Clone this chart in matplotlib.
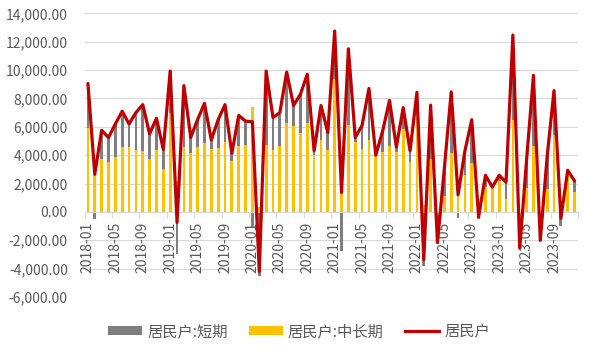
import matplotlib
matplotlib.use('Agg')
import matplotlib.pyplot as plt
import numpy as np
from matplotlib.patches import Patch
from matplotlib.lines import Line2D
from matplotlib.ticker import FuncFormatter

plt.rcParams['font.family'] = ['Noto Sans CJK SC', 'DejaVu Sans']

months = [f'{y}-{m:02d}' for y in range(2018, 2024) for m in range(1, 13)]

total = [9050, 2650, 5750, 5240, 6200, 7100, 6200, 7000, 7560, 5500, 6600, 4400,
         9930, -750, 8900, 5250, 6500, 7650, 5070, 6500, 7560, 4130, 6800, 6400,
         6350, -4200, 9930, 6650, 7000, 9860, 7500, 8290, 9700, 4300, 7500, 5600,
         12750, 1370, 11500, 5240, 6100, 8700, 4000, 5700, 7860, 4580, 7350, 4300,
         8430, -3370, 7530, -2170, 3070, 8460, 1200, 4300, 6500, -350, 2580, 1750,
         2580, 2090, 12470, -2550, 3670, 9630, -2010, 3920, 8550, -450, 2930, 2180]

long_term = [5900, 3150, 3700, 3500, 3900, 4600, 4550, 4350, 4270, 3700, 4350, 3000,
             6950, 2200, 4600, 4150, 4600, 4850, 4400, 4500, 4900, 3570, 4630, 4750,
             7400, 350, 4700, 4350, 4630, 6300, 6030, 5540, 6300, 4000, 5050, 4350,
             9400, 4115, 6150, 4900, 4400, 5100, 3950, 4200, 4630, 4200, 5870, 3550,
             7420, 460, 3750, -220, 1130, 4180, 1600, 2600, 3450, 150, 1750, 1850,
             2200, 880, 6500, -1300, 1680, 4630, -670, 1600, 5450, 550, 2750, 1400]

short_term = [3150, -500, 2050, 1740, 2300, 2500, 1650, 2650, 3290, 1800, 2250, 1400,
              2980, -2950, 4300, 1100, 1900, 2800, 670, 2000, 2660, 560, 2170, 1650,
              -1050, -4550, 5230, 2300, 2370, 3560, 1470, 2750, 3400, 300, 2450, 1250,
              3350, -2745, 5350, 340, 1700, 3600, 50, 1500, 3230, 380, 1480, 750,
              1010, -3830, 3780, -1950, 1940, 4280, -400, 1700, 3050, -500, 830, -100,
              380, 1210, 5970, -1250, 1990, 5000, -1340, 2320, 3100, -1000, 180, 780]

series_names = ['居民户:短期', '居民户:中长期', '居民户']
colors = {'short': '#7F7F7F', 'long': '#FFC000', 'total': '#C00000'}
yticks = list(range(-6000, 14001, 2000))

x = np.arange(len(months))
long_arr = np.array(long_term, dtype=float)
short_arr = np.array(short_term, dtype=float)
short_bottom = np.where(short_arr >= 0, np.maximum(long_arr, 0), np.minimum(long_arr, 0))

fig = plt.figure(figsize=(5.91, 3.51), dpi=100)
ax = fig.add_axes([84.5/591, 1-297/351, (578-84.5)/591, (297-13.3)/351])

for yv in yticks:
    ax.axhline(yv, color='#D9D9D9', lw=0.8, zorder=0)

bw = 0.4
ax.bar(x, long_arr, width=bw, color=colors['long'], zorder=2)
ax.bar(x, short_arr, width=bw, bottom=short_bottom, color=colors['short'], zorder=2)
ax.plot(x, total, color=colors['total'], lw=2.3, zorder=3,
        solid_joinstyle='round', solid_capstyle='round')

ax.set_xlim(-0.5, len(months) - 0.5)
ax.set_ylim(-6000, 14000)
ax.set_yticks(yticks)
ax.yaxis.set_major_formatter(FuncFormatter(lambda v, p: f'{v:,.2f}'))
ax.tick_params(axis='y', length=0, pad=12, labelsize=10, labelcolor='#595959')

for s in ['top', 'right', 'left']:
    ax.spines[s].set_visible(False)
ax.spines['bottom'].set_position(('data', 0))
ax.spines['bottom'].set_color('#D9D9D9')
ax.spines['bottom'].set_linewidth(0.8)

lab_idx = x[::4]
ax.set_xticks(lab_idx)
ax.set_xticklabels([months[i] for i in lab_idx], rotation=90)
ax.set_xticks(list(lab_idx - 0.5) + [len(months) - 0.5], minor=True)
ax.tick_params(axis='x', which='major', length=0, pad=7, labelsize=10, labelcolor='#595959')
ax.tick_params(axis='x', which='minor', length=4, color='#D9D9D9', width=0.8)

handles = [Patch(facecolor=colors['short'], edgecolor='none'),
           Patch(facecolor=colors['long'], edgecolor='none'),
           Line2D([0], [0], color=colors['total'], lw=2.3)]
fig.legend(handles, series_names, loc='center', bbox_to_anchor=(299/591, 1-331.7/351),
           ncol=3, frameon=False, fontsize=11, handlelength=2.2, handleheight=0.55,
           handletextpad=0.35, columnspacing=1.4, labelcolor='#595959')

fig.savefig('out.png', dpi=100)
